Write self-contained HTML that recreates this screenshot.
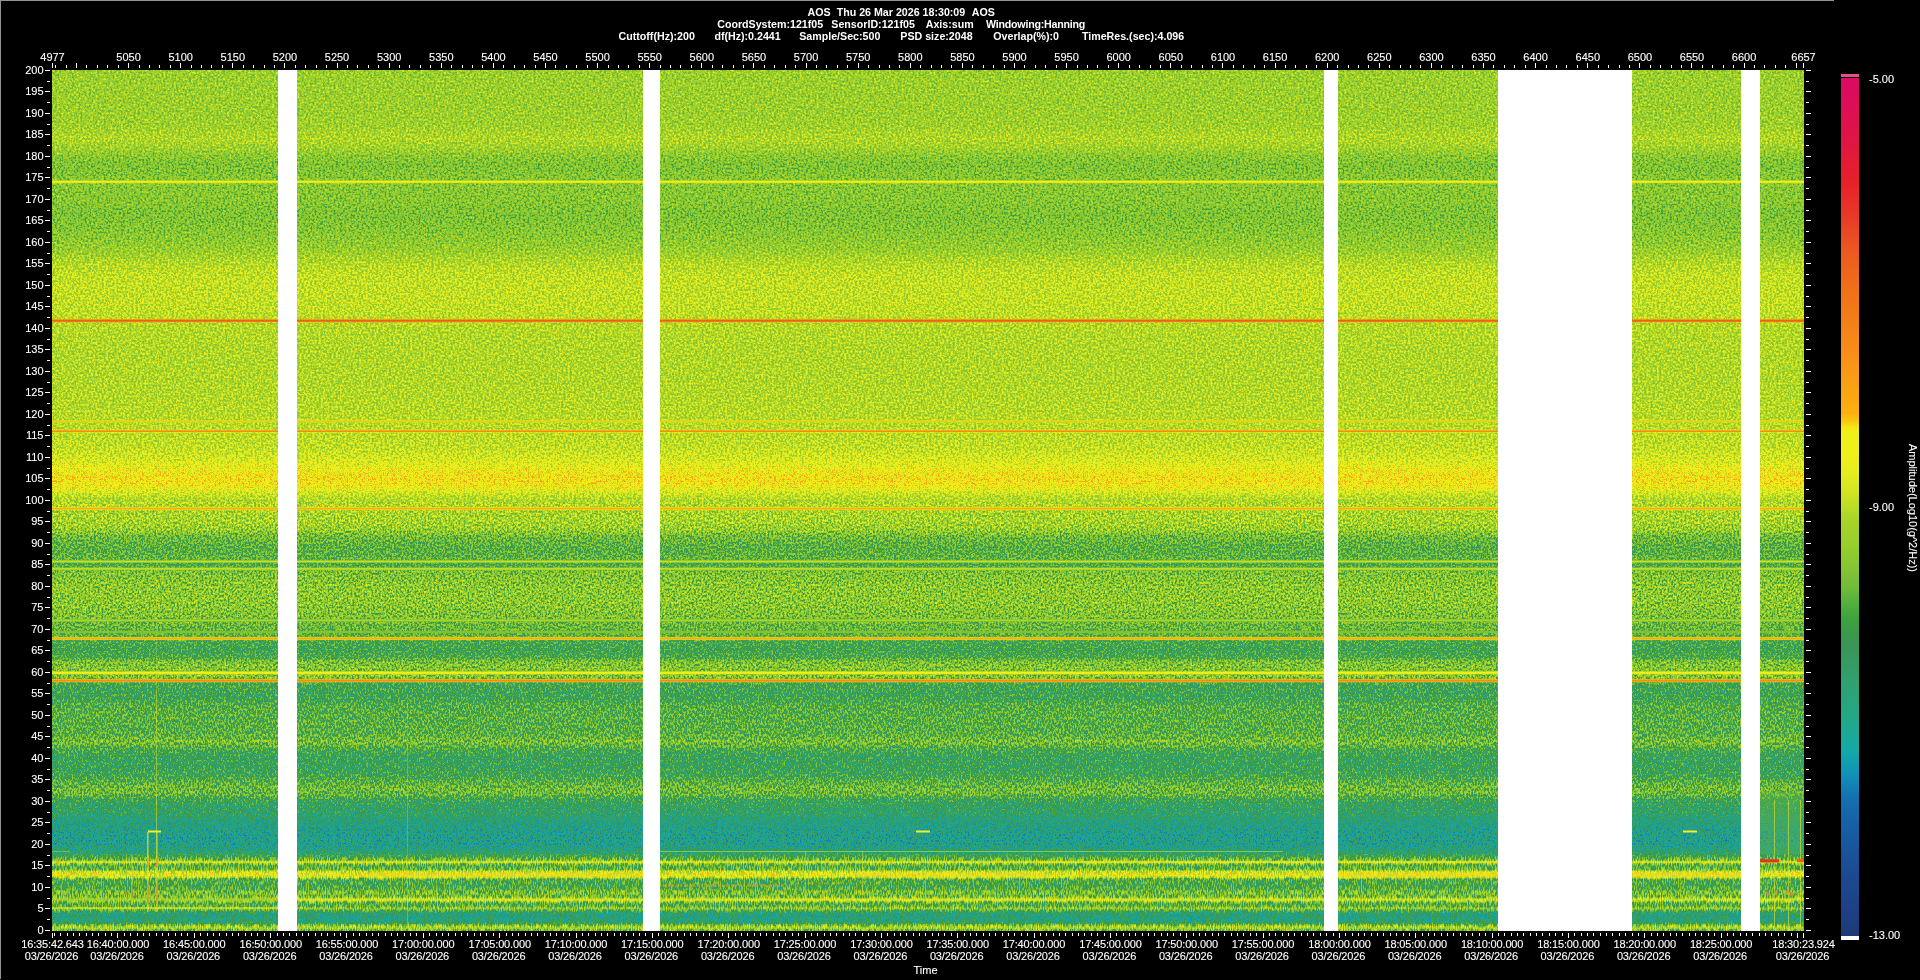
<!DOCTYPE html>
<html><head><meta charset="utf-8"><title>AOS spectrogram</title>
<style>
html,body{margin:0;padding:0;background:#000;}
body{width:1920px;height:980px;overflow:hidden;position:relative;font-family:"Liberation Sans",sans-serif;font-size:11px;color:#fff;}
.t{position:absolute;white-space:pre;line-height:12px;height:12px;-webkit-text-stroke:0.1px #fff;}
.c{transform:translateX(-50%);text-align:center;}
.r{text-align:right;}
.b{font-weight:bold;-webkit-text-stroke:0;}
.n{letter-spacing:-0.15px;}
svg{position:absolute;left:0;top:0;}
</style></head><body>
<svg width="1920" height="980" viewBox="0 0 1920 980" shape-rendering="crispEdges">
<defs>
<linearGradient id="vg" gradientUnits="userSpaceOnUse" x1="0" y1="70" x2="0" y2="931"><stop offset="0.0000" stop-color="rgb(117,117,117)"/><stop offset="0.0400" stop-color="rgb(117,117,117)"/><stop offset="0.0649" stop-color="rgb(118,118,118)"/><stop offset="0.0799" stop-color="rgb(123,123,123)"/><stop offset="0.0899" stop-color="rgb(119,119,119)"/><stop offset="0.0999" stop-color="rgb(112,112,112)"/><stop offset="0.1099" stop-color="rgb(108,108,108)"/><stop offset="0.1224" stop-color="rgb(110,110,110)"/><stop offset="0.1348" stop-color="rgb(111,111,111)"/><stop offset="0.1498" stop-color="rgb(111,111,111)"/><stop offset="0.1698" stop-color="rgb(108,108,108)"/><stop offset="0.1898" stop-color="rgb(111,111,111)"/><stop offset="0.2098" stop-color="rgb(116,116,116)"/><stop offset="0.2247" stop-color="rgb(124,124,124)"/><stop offset="0.2397" stop-color="rgb(128,128,128)"/><stop offset="0.2647" stop-color="rgb(128,128,128)"/><stop offset="0.2847" stop-color="rgb(127,127,127)"/><stop offset="0.2997" stop-color="rgb(124,124,124)"/><stop offset="0.3246" stop-color="rgb(123,123,123)"/><stop offset="0.3596" stop-color="rgb(123,123,123)"/><stop offset="0.3895" stop-color="rgb(124,124,124)"/><stop offset="0.4145" stop-color="rgb(125,125,125)"/><stop offset="0.4395" stop-color="rgb(128,128,128)"/><stop offset="0.4545" stop-color="rgb(135,135,135)"/><stop offset="0.4670" stop-color="rgb(143,143,143)"/><stop offset="0.4769" stop-color="rgb(147,147,147)"/><stop offset="0.4844" stop-color="rgb(143,143,143)"/><stop offset="0.4919" stop-color="rgb(131,131,131)"/><stop offset="0.4994" stop-color="rgb(123,123,123)"/><stop offset="0.5054" stop-color="rgb(123,123,123)"/><stop offset="0.5129" stop-color="rgb(120,120,120)"/><stop offset="0.5244" stop-color="rgb(120,120,120)"/><stop offset="0.5344" stop-color="rgb(115,115,115)"/><stop offset="0.5419" stop-color="rgb(104,104,104)"/><stop offset="0.5544" stop-color="rgb(97,97,97)"/><stop offset="0.5643" stop-color="rgb(98,98,98)"/><stop offset="0.5678" stop-color="rgb(100,100,100)"/><stop offset="0.5743" stop-color="rgb(91,91,91)"/><stop offset="0.5823" stop-color="rgb(107,107,107)"/><stop offset="0.5993" stop-color="rgb(112,112,112)"/><stop offset="0.6193" stop-color="rgb(112,112,112)"/><stop offset="0.6343" stop-color="rgb(108,108,108)"/><stop offset="0.6443" stop-color="rgb(102,102,102)"/><stop offset="0.6542" stop-color="rgb(100,100,100)"/><stop offset="0.6642" stop-color="rgb(91,91,91)"/><stop offset="0.6742" stop-color="rgb(88,88,88)"/><stop offset="0.6827" stop-color="rgb(92,92,92)"/><stop offset="0.6867" stop-color="rgb(107,107,107)"/><stop offset="0.6942" stop-color="rgb(110,110,110)"/><stop offset="0.6972" stop-color="rgb(107,107,107)"/><stop offset="0.7042" stop-color="rgb(110,110,110)"/><stop offset="0.7127" stop-color="rgb(89,89,89)"/><stop offset="0.7242" stop-color="rgb(86,86,86)"/><stop offset="0.7316" stop-color="rgb(88,88,88)"/><stop offset="0.7366" stop-color="rgb(94,94,94)"/><stop offset="0.7491" stop-color="rgb(96,96,96)"/><stop offset="0.7691" stop-color="rgb(96,96,96)"/><stop offset="0.7751" stop-color="rgb(100,100,100)"/><stop offset="0.7801" stop-color="rgb(106,106,106)"/><stop offset="0.7851" stop-color="rgb(99,99,99)"/><stop offset="0.7891" stop-color="rgb(91,91,91)"/><stop offset="0.7966" stop-color="rgb(84,84,84)"/><stop offset="0.8091" stop-color="rgb(84,84,84)"/><stop offset="0.8190" stop-color="rgb(87,87,87)"/><stop offset="0.8265" stop-color="rgb(96,96,96)"/><stop offset="0.8340" stop-color="rgb(103,103,103)"/><stop offset="0.8415" stop-color="rgb(101,101,101)"/><stop offset="0.8465" stop-color="rgb(88,88,88)"/><stop offset="0.8540" stop-color="rgb(80,80,80)"/><stop offset="0.8640" stop-color="rgb(78,78,78)"/><stop offset="0.8715" stop-color="rgb(70,70,70)"/><stop offset="0.8790" stop-color="rgb(67,67,67)"/><stop offset="0.8890" stop-color="rgb(64,64,64)"/><stop offset="0.8990" stop-color="rgb(64,64,64)"/><stop offset="0.9064" stop-color="rgb(70,70,70)"/><stop offset="0.9109" stop-color="rgb(80,80,80)"/><stop offset="0.9139" stop-color="rgb(92,92,92)"/><stop offset="0.9164" stop-color="rgb(99,99,99)"/><stop offset="0.9184" stop-color="rgb(115,115,115)"/><stop offset="0.9199" stop-color="rgb(128,128,128)"/><stop offset="0.9214" stop-color="rgb(115,115,115)"/><stop offset="0.9234" stop-color="rgb(99,99,99)"/><stop offset="0.9259" stop-color="rgb(96,96,96)"/><stop offset="0.9284" stop-color="rgb(102,102,102)"/><stop offset="0.9304" stop-color="rgb(124,124,124)"/><stop offset="0.9324" stop-color="rgb(134,134,134)"/><stop offset="0.9359" stop-color="rgb(134,134,134)"/><stop offset="0.9379" stop-color="rgb(124,124,124)"/><stop offset="0.9394" stop-color="rgb(102,102,102)"/><stop offset="0.9419" stop-color="rgb(92,92,92)"/><stop offset="0.9489" stop-color="rgb(92,92,92)"/><stop offset="0.9509" stop-color="rgb(96,96,96)"/><stop offset="0.9539" stop-color="rgb(105,105,105)"/><stop offset="0.9569" stop-color="rgb(107,107,107)"/><stop offset="0.9594" stop-color="rgb(102,102,102)"/><stop offset="0.9614" stop-color="rgb(115,115,115)"/><stop offset="0.9634" stop-color="rgb(128,128,128)"/><stop offset="0.9654" stop-color="rgb(118,118,118)"/><stop offset="0.9674" stop-color="rgb(99,99,99)"/><stop offset="0.9699" stop-color="rgb(94,94,94)"/><stop offset="0.9714" stop-color="rgb(100,100,100)"/><stop offset="0.9729" stop-color="rgb(110,110,110)"/><stop offset="0.9744" stop-color="rgb(110,110,110)"/><stop offset="0.9759" stop-color="rgb(97,97,97)"/><stop offset="0.9779" stop-color="rgb(80,80,80)"/><stop offset="0.9814" stop-color="rgb(70,70,70)"/><stop offset="0.9889" stop-color="rgb(73,73,73)"/><stop offset="0.9908" stop-color="rgb(83,83,83)"/><stop offset="0.9928" stop-color="rgb(104,104,104)"/><stop offset="0.9948" stop-color="rgb(118,118,118)"/><stop offset="0.9968" stop-color="rgb(118,118,118)"/><stop offset="0.9988" stop-color="rgb(105,105,105)"/></linearGradient>
<linearGradient id="cbg" x1="0" y1="0" x2="0" y2="1"><stop offset="0.0000" stop-color="#DC0A64"/><stop offset="0.0256" stop-color="#DE0C5A"/><stop offset="0.0688" stop-color="#E01446"/><stop offset="0.1212" stop-color="#E82028"/><stop offset="0.1597" stop-color="#E83828"/><stop offset="0.2005" stop-color="#EC5820"/><stop offset="0.2471" stop-color="#F07018"/><stop offset="0.3252" stop-color="#F89018"/><stop offset="0.3904" stop-color="#FBB010"/><stop offset="0.3998" stop-color="#F8C810"/><stop offset="0.4079" stop-color="#F4E818"/><stop offset="0.4138" stop-color="#F0F018"/><stop offset="0.4394" stop-color="#EEF01A"/><stop offset="0.4627" stop-color="#E4EC20"/><stop offset="0.4802" stop-color="#D4E622"/><stop offset="0.5000" stop-color="#BCDC26"/><stop offset="0.5152" stop-color="#A8D428"/><stop offset="0.5443" stop-color="#98CE2C"/><stop offset="0.5734" stop-color="#84C434"/><stop offset="0.5967" stop-color="#6CBA38"/><stop offset="0.6142" stop-color="#50AE3C"/><stop offset="0.6317" stop-color="#3CA23E"/><stop offset="0.6457" stop-color="#3A9A4A"/><stop offset="0.6620" stop-color="#3A9458"/><stop offset="0.7016" stop-color="#30A070"/><stop offset="0.7483" stop-color="#22A888"/><stop offset="0.7855" stop-color="#14A8A8"/><stop offset="0.8124" stop-color="#1090B8"/><stop offset="0.8380" stop-color="#1470B0"/><stop offset="0.8881" stop-color="#1858A0"/><stop offset="0.9347" stop-color="#1C4890"/><stop offset="1.0000" stop-color="#1E3A78"/></linearGradient>
<filter id="fn" x="0" y="0" width="100%" height="100%" filterUnits="objectBoundingBox" color-interpolation-filters="sRGB"><feTurbulence type="fractalNoise" baseFrequency="0.47" numOctaves="2" seed="3" result="n"/><feComponentTransfer in="n" result="nq"><feFuncR type="table" tableValues="0.4413 0.4413 0.4413 0.4413 0.4413 0.4413 0.4413 0.4413 0.4413 0.4413 0.4413 0.4413 0.4413 0.4413 0.4413 0.4413 0.4413 0.4413 0.4413 0.4413 0.4413 0.4413 0.4450 0.4520 0.4587 0.4652 0.4714 0.4774 0.4832 0.4888 0.4943 0.4995 0.5046 0.5095 0.5143 0.5189 0.5233 0.5277 0.5319 0.5359 0.5399 0.5437 0.5475 0.5511 0.5546 0.5581 0.5614 0.5647 0.5679 0.5710 0.5740 0.5769 0.5798 0.5826 0.5854 0.5881 0.5907 0.5933 0.5938 0.5938 0.5938 0.5938 0.5938 0.5938 0.5938"/></feComponentTransfer><feColorMatrix in="nq" type="matrix" values="1 0 0 0 0  1 0 0 0 0  1 0 0 0 0  0 0 0 0 1" result="n1"/><feComposite in="SourceGraphic" in2="n1" operator="arithmetic" k1="0" k2="1" k3="1" k4="-0.5"/><feComponentTransfer><feFuncR type="table" tableValues="0.118 0.117 0.116 0.115 0.114 0.113 0.112 0.111 0.110 0.108 0.105 0.103 0.100 0.098 0.095 0.092 0.090 0.088 0.085 0.083 0.080 0.077 0.072 0.068 0.063 0.067 0.072 0.076 0.085 0.096 0.108 0.119 0.131 0.140 0.150 0.159 0.168 0.177 0.186 0.194 0.202 0.210 0.218 0.225 0.227 0.227 0.230 0.235 0.265 0.300 0.344 0.393 0.436 0.467 0.499 0.526 0.547 0.568 0.589 0.607 0.624 0.641 0.658 0.697 0.737 0.774 0.811 0.844 0.872 0.897 0.910 0.923 0.934 0.936 0.939 0.941 0.960 0.974 0.984 0.983 0.982 0.980 0.979 0.977 0.976 0.974 0.973 0.971 0.967 0.964 0.961 0.958 0.955 0.952 0.949 0.945 0.942 0.940 0.937 0.934 0.932 0.929 0.926 0.924 0.921 0.917 0.914 0.911 0.910 0.910 0.910 0.910 0.910 0.907 0.903 0.898 0.893 0.889 0.884 0.879 0.877 0.876 0.874 0.873 0.872 0.870 0.868 0.865 0.863"/><feFuncG type="table" tableValues="0.227 0.234 0.241 0.247 0.254 0.260 0.267 0.273 0.280 0.289 0.300 0.310 0.321 0.331 0.342 0.355 0.370 0.384 0.399 0.414 0.428 0.449 0.488 0.526 0.564 0.592 0.619 0.646 0.659 0.659 0.659 0.659 0.659 0.655 0.649 0.644 0.639 0.634 0.628 0.620 0.611 0.601 0.592 0.583 0.589 0.600 0.615 0.633 0.653 0.674 0.695 0.716 0.734 0.748 0.761 0.773 0.783 0.794 0.804 0.812 0.818 0.825 0.831 0.847 0.863 0.878 0.894 0.907 0.917 0.927 0.932 0.937 0.941 0.941 0.941 0.941 0.884 0.771 0.692 0.676 0.661 0.645 0.630 0.615 0.600 0.585 0.570 0.557 0.544 0.532 0.519 0.507 0.494 0.482 0.469 0.456 0.444 0.429 0.414 0.398 0.382 0.366 0.350 0.329 0.305 0.281 0.257 0.233 0.211 0.192 0.173 0.154 0.135 0.122 0.115 0.108 0.101 0.094 0.087 0.080 0.074 0.068 0.063 0.057 0.051 0.046 0.044 0.042 0.039"/><feFuncB type="table" tableValues="0.471 0.482 0.493 0.504 0.516 0.527 0.538 0.549 0.561 0.571 0.582 0.593 0.603 0.614 0.624 0.634 0.644 0.654 0.663 0.673 0.683 0.693 0.702 0.712 0.721 0.704 0.685 0.667 0.644 0.618 0.592 0.566 0.539 0.521 0.505 0.490 0.474 0.458 0.442 0.424 0.406 0.387 0.369 0.350 0.326 0.299 0.273 0.247 0.240 0.237 0.231 0.224 0.218 0.212 0.207 0.201 0.192 0.184 0.175 0.170 0.166 0.161 0.157 0.153 0.149 0.143 0.137 0.132 0.128 0.124 0.116 0.108 0.101 0.099 0.097 0.094 0.088 0.063 0.063 0.066 0.070 0.074 0.078 0.081 0.085 0.089 0.093 0.094 0.094 0.094 0.094 0.094 0.094 0.094 0.094 0.094 0.094 0.097 0.103 0.108 0.113 0.118 0.124 0.129 0.135 0.141 0.147 0.153 0.157 0.157 0.157 0.157 0.157 0.166 0.183 0.201 0.218 0.236 0.254 0.271 0.286 0.300 0.314 0.329 0.343 0.356 0.368 0.380 0.392"/><feFuncA type="linear" slope="0" intercept="1"/></feComponentTransfer><feGaussianBlur stdDeviation="0.42"/></filter>
<filter id="fn2" x="0" y="0" width="100%" height="100%" filterUnits="objectBoundingBox" color-interpolation-filters="sRGB"><feTurbulence type="fractalNoise" baseFrequency="0.53 0.45" numOctaves="2" seed="5" result="n"/><feComponentTransfer in="n" result="nq"><feFuncR type="table" tableValues="0.4250 0.4250 0.4250 0.4250 0.4250 0.4250 0.4250 0.4250 0.4250 0.4250 0.4250 0.4250 0.4250 0.4250 0.4250 0.4250 0.4250 0.4250 0.4250 0.4250 0.4250 0.4250 0.4250 0.4333 0.4426 0.4516 0.4603 0.4686 0.4767 0.4845 0.4920 0.4993 0.5064 0.5132 0.5198 0.5262 0.5324 0.5384 0.5442 0.5499 0.5554 0.5607 0.5659 0.5710 0.5759 0.5806 0.5853 0.5898 0.5938 0.5938 0.5938 0.5938 0.5938 0.5938 0.5938 0.5938 0.5938 0.5938 0.5938 0.5938 0.5938 0.5938 0.5938 0.5938 0.5938"/></feComponentTransfer><feColorMatrix in="nq" type="matrix" values="1 0 0 0 0  1 0 0 0 0  1 0 0 0 0  0 0 0 0 1" result="n1"/><feComposite in="SourceGraphic" in2="n1" operator="arithmetic" k1="0" k2="1" k3="1" k4="-0.5"/><feComponentTransfer><feFuncR type="table" tableValues="0.118 0.117 0.116 0.115 0.114 0.113 0.112 0.111 0.110 0.108 0.105 0.103 0.100 0.098 0.095 0.092 0.090 0.088 0.085 0.083 0.080 0.077 0.072 0.068 0.063 0.067 0.072 0.076 0.085 0.096 0.108 0.119 0.131 0.140 0.150 0.159 0.168 0.177 0.186 0.194 0.202 0.210 0.218 0.225 0.227 0.227 0.230 0.235 0.265 0.300 0.344 0.393 0.436 0.467 0.499 0.526 0.547 0.568 0.589 0.607 0.624 0.641 0.658 0.697 0.737 0.774 0.811 0.844 0.872 0.897 0.910 0.923 0.934 0.936 0.939 0.941 0.960 0.974 0.984 0.983 0.982 0.980 0.979 0.977 0.976 0.974 0.973 0.971 0.967 0.964 0.961 0.958 0.955 0.952 0.949 0.945 0.942 0.940 0.937 0.934 0.932 0.929 0.926 0.924 0.921 0.917 0.914 0.911 0.910 0.910 0.910 0.910 0.910 0.907 0.903 0.898 0.893 0.889 0.884 0.879 0.877 0.876 0.874 0.873 0.872 0.870 0.868 0.865 0.863"/><feFuncG type="table" tableValues="0.227 0.234 0.241 0.247 0.254 0.260 0.267 0.273 0.280 0.289 0.300 0.310 0.321 0.331 0.342 0.355 0.370 0.384 0.399 0.414 0.428 0.449 0.488 0.526 0.564 0.592 0.619 0.646 0.659 0.659 0.659 0.659 0.659 0.655 0.649 0.644 0.639 0.634 0.628 0.620 0.611 0.601 0.592 0.583 0.589 0.600 0.615 0.633 0.653 0.674 0.695 0.716 0.734 0.748 0.761 0.773 0.783 0.794 0.804 0.812 0.818 0.825 0.831 0.847 0.863 0.878 0.894 0.907 0.917 0.927 0.932 0.937 0.941 0.941 0.941 0.941 0.884 0.771 0.692 0.676 0.661 0.645 0.630 0.615 0.600 0.585 0.570 0.557 0.544 0.532 0.519 0.507 0.494 0.482 0.469 0.456 0.444 0.429 0.414 0.398 0.382 0.366 0.350 0.329 0.305 0.281 0.257 0.233 0.211 0.192 0.173 0.154 0.135 0.122 0.115 0.108 0.101 0.094 0.087 0.080 0.074 0.068 0.063 0.057 0.051 0.046 0.044 0.042 0.039"/><feFuncB type="table" tableValues="0.471 0.482 0.493 0.504 0.516 0.527 0.538 0.549 0.561 0.571 0.582 0.593 0.603 0.614 0.624 0.634 0.644 0.654 0.663 0.673 0.683 0.693 0.702 0.712 0.721 0.704 0.685 0.667 0.644 0.618 0.592 0.566 0.539 0.521 0.505 0.490 0.474 0.458 0.442 0.424 0.406 0.387 0.369 0.350 0.326 0.299 0.273 0.247 0.240 0.237 0.231 0.224 0.218 0.212 0.207 0.201 0.192 0.184 0.175 0.170 0.166 0.161 0.157 0.153 0.149 0.143 0.137 0.132 0.128 0.124 0.116 0.108 0.101 0.099 0.097 0.094 0.088 0.063 0.063 0.066 0.070 0.074 0.078 0.081 0.085 0.089 0.093 0.094 0.094 0.094 0.094 0.094 0.094 0.094 0.094 0.094 0.094 0.097 0.103 0.108 0.113 0.118 0.124 0.129 0.135 0.141 0.147 0.153 0.157 0.157 0.157 0.157 0.157 0.166 0.183 0.201 0.218 0.236 0.254 0.271 0.286 0.300 0.314 0.329 0.343 0.356 0.368 0.380 0.392"/><feFuncA type="linear" slope="0" intercept="1"/></feComponentTransfer><feGaussianBlur stdDeviation="0.36"/></filter>
<filter id="fm" x="0" y="0" width="100%" height="100%" filterUnits="objectBoundingBox" color-interpolation-filters="sRGB"><feTurbulence type="fractalNoise" baseFrequency="0.57 0.35" numOctaves="2" seed="7" result="n"/><feComponentTransfer in="n" result="nq"><feFuncR type="table" tableValues="0.4250 0.4250 0.4250 0.4250 0.4250 0.4250 0.4250 0.4250 0.4250 0.4250 0.4250 0.4250 0.4250 0.4250 0.4250 0.4250 0.4250 0.4250 0.4250 0.4250 0.4250 0.4250 0.4250 0.4254 0.4356 0.4454 0.4549 0.4642 0.4731 0.4818 0.4903 0.4984 0.5064 0.5141 0.5216 0.5289 0.5360 0.5429 0.5496 0.5561 0.5624 0.5686 0.5747 0.5806 0.5863 0.5919 0.5938 0.5938 0.5938 0.5938 0.5938 0.5938 0.5938 0.5938 0.5938 0.5938 0.5938 0.5938 0.5938 0.5938 0.5938 0.5938 0.5938 0.5938 0.5938"/></feComponentTransfer><feColorMatrix in="nq" type="matrix" values="1 0 0 0 0  1 0 0 0 0  1 0 0 0 0  0 0 0 0 1" result="n1"/><feComposite in="SourceGraphic" in2="n1" operator="arithmetic" k1="0" k2="1" k3="1" k4="-0.5"/><feComponentTransfer><feFuncR type="table" tableValues="0.118 0.117 0.116 0.115 0.114 0.113 0.112 0.111 0.110 0.108 0.105 0.103 0.100 0.098 0.095 0.092 0.090 0.088 0.085 0.083 0.080 0.077 0.072 0.068 0.063 0.067 0.072 0.076 0.085 0.096 0.108 0.119 0.131 0.140 0.150 0.159 0.168 0.177 0.186 0.194 0.202 0.210 0.218 0.225 0.227 0.227 0.230 0.235 0.265 0.300 0.344 0.393 0.436 0.467 0.499 0.526 0.547 0.568 0.589 0.607 0.624 0.641 0.658 0.697 0.737 0.774 0.811 0.844 0.872 0.897 0.910 0.923 0.934 0.936 0.939 0.941 0.960 0.974 0.984 0.983 0.982 0.980 0.979 0.977 0.976 0.974 0.973 0.971 0.967 0.964 0.961 0.958 0.955 0.952 0.949 0.945 0.942 0.940 0.937 0.934 0.932 0.929 0.926 0.924 0.921 0.917 0.914 0.911 0.910 0.910 0.910 0.910 0.910 0.907 0.903 0.898 0.893 0.889 0.884 0.879 0.877 0.876 0.874 0.873 0.872 0.870 0.868 0.865 0.863"/><feFuncG type="table" tableValues="0.227 0.234 0.241 0.247 0.254 0.260 0.267 0.273 0.280 0.289 0.300 0.310 0.321 0.331 0.342 0.355 0.370 0.384 0.399 0.414 0.428 0.449 0.488 0.526 0.564 0.592 0.619 0.646 0.659 0.659 0.659 0.659 0.659 0.655 0.649 0.644 0.639 0.634 0.628 0.620 0.611 0.601 0.592 0.583 0.589 0.600 0.615 0.633 0.653 0.674 0.695 0.716 0.734 0.748 0.761 0.773 0.783 0.794 0.804 0.812 0.818 0.825 0.831 0.847 0.863 0.878 0.894 0.907 0.917 0.927 0.932 0.937 0.941 0.941 0.941 0.941 0.884 0.771 0.692 0.676 0.661 0.645 0.630 0.615 0.600 0.585 0.570 0.557 0.544 0.532 0.519 0.507 0.494 0.482 0.469 0.456 0.444 0.429 0.414 0.398 0.382 0.366 0.350 0.329 0.305 0.281 0.257 0.233 0.211 0.192 0.173 0.154 0.135 0.122 0.115 0.108 0.101 0.094 0.087 0.080 0.074 0.068 0.063 0.057 0.051 0.046 0.044 0.042 0.039"/><feFuncB type="table" tableValues="0.471 0.482 0.493 0.504 0.516 0.527 0.538 0.549 0.561 0.571 0.582 0.593 0.603 0.614 0.624 0.634 0.644 0.654 0.663 0.673 0.683 0.693 0.702 0.712 0.721 0.704 0.685 0.667 0.644 0.618 0.592 0.566 0.539 0.521 0.505 0.490 0.474 0.458 0.442 0.424 0.406 0.387 0.369 0.350 0.326 0.299 0.273 0.247 0.240 0.237 0.231 0.224 0.218 0.212 0.207 0.201 0.192 0.184 0.175 0.170 0.166 0.161 0.157 0.153 0.149 0.143 0.137 0.132 0.128 0.124 0.116 0.108 0.101 0.099 0.097 0.094 0.088 0.063 0.063 0.066 0.070 0.074 0.078 0.081 0.085 0.089 0.093 0.094 0.094 0.094 0.094 0.094 0.094 0.094 0.094 0.094 0.094 0.097 0.103 0.108 0.113 0.118 0.124 0.129 0.135 0.141 0.147 0.153 0.157 0.157 0.157 0.157 0.157 0.166 0.183 0.201 0.218 0.236 0.254 0.271 0.286 0.300 0.314 0.329 0.343 0.356 0.368 0.380 0.392"/><feFuncA type="linear" slope="0" intercept="1"/></feComponentTransfer><feGaussianBlur stdDeviation="0.33"/></filter>
<filter id="fl" x="0" y="0" width="100%" height="100%" filterUnits="objectBoundingBox" color-interpolation-filters="sRGB"><feTurbulence type="fractalNoise" baseFrequency="0.83 0.21" numOctaves="2" seed="11" result="n"/><feComponentTransfer in="n" result="nq"><feFuncR type="table" tableValues="0.4250 0.4250 0.4250 0.4250 0.4250 0.4250 0.4250 0.4250 0.4250 0.4250 0.4250 0.4250 0.4250 0.4250 0.4250 0.4250 0.4250 0.4250 0.4250 0.4250 0.4250 0.4250 0.4250 0.4280 0.4380 0.4477 0.4571 0.4661 0.4748 0.4833 0.4914 0.4993 0.5069 0.5143 0.5214 0.5283 0.5350 0.5415 0.5478 0.5539 0.5598 0.5656 0.5712 0.5766 0.5819 0.5871 0.5921 0.5938 0.5938 0.5938 0.5938 0.5938 0.5938 0.5938 0.5938 0.5938 0.5938 0.5938 0.5938 0.5938 0.5938 0.5938 0.5938 0.5938 0.5938"/></feComponentTransfer><feColorMatrix in="nq" type="matrix" values="1 0 0 0 0  1 0 0 0 0  1 0 0 0 0  0 0 0 0 1" result="n1"/><feComposite in="SourceGraphic" in2="n1" operator="arithmetic" k1="0" k2="1" k3="1" k4="-0.5"/><feComponentTransfer><feFuncR type="table" tableValues="0.118 0.117 0.116 0.115 0.114 0.113 0.112 0.111 0.110 0.108 0.105 0.103 0.100 0.098 0.095 0.092 0.090 0.088 0.085 0.083 0.080 0.077 0.072 0.068 0.063 0.067 0.072 0.076 0.085 0.096 0.108 0.119 0.131 0.140 0.150 0.159 0.168 0.177 0.186 0.194 0.202 0.210 0.218 0.225 0.227 0.227 0.230 0.235 0.265 0.300 0.344 0.393 0.436 0.467 0.499 0.526 0.547 0.568 0.589 0.607 0.624 0.641 0.658 0.697 0.737 0.774 0.811 0.844 0.872 0.897 0.910 0.923 0.934 0.936 0.939 0.941 0.960 0.974 0.984 0.983 0.982 0.980 0.979 0.977 0.976 0.974 0.973 0.971 0.967 0.964 0.961 0.958 0.955 0.952 0.949 0.945 0.942 0.940 0.937 0.934 0.932 0.929 0.926 0.924 0.921 0.917 0.914 0.911 0.910 0.910 0.910 0.910 0.910 0.907 0.903 0.898 0.893 0.889 0.884 0.879 0.877 0.876 0.874 0.873 0.872 0.870 0.868 0.865 0.863"/><feFuncG type="table" tableValues="0.227 0.234 0.241 0.247 0.254 0.260 0.267 0.273 0.280 0.289 0.300 0.310 0.321 0.331 0.342 0.355 0.370 0.384 0.399 0.414 0.428 0.449 0.488 0.526 0.564 0.592 0.619 0.646 0.659 0.659 0.659 0.659 0.659 0.655 0.649 0.644 0.639 0.634 0.628 0.620 0.611 0.601 0.592 0.583 0.589 0.600 0.615 0.633 0.653 0.674 0.695 0.716 0.734 0.748 0.761 0.773 0.783 0.794 0.804 0.812 0.818 0.825 0.831 0.847 0.863 0.878 0.894 0.907 0.917 0.927 0.932 0.937 0.941 0.941 0.941 0.941 0.884 0.771 0.692 0.676 0.661 0.645 0.630 0.615 0.600 0.585 0.570 0.557 0.544 0.532 0.519 0.507 0.494 0.482 0.469 0.456 0.444 0.429 0.414 0.398 0.382 0.366 0.350 0.329 0.305 0.281 0.257 0.233 0.211 0.192 0.173 0.154 0.135 0.122 0.115 0.108 0.101 0.094 0.087 0.080 0.074 0.068 0.063 0.057 0.051 0.046 0.044 0.042 0.039"/><feFuncB type="table" tableValues="0.471 0.482 0.493 0.504 0.516 0.527 0.538 0.549 0.561 0.571 0.582 0.593 0.603 0.614 0.624 0.634 0.644 0.654 0.663 0.673 0.683 0.693 0.702 0.712 0.721 0.704 0.685 0.667 0.644 0.618 0.592 0.566 0.539 0.521 0.505 0.490 0.474 0.458 0.442 0.424 0.406 0.387 0.369 0.350 0.326 0.299 0.273 0.247 0.240 0.237 0.231 0.224 0.218 0.212 0.207 0.201 0.192 0.184 0.175 0.170 0.166 0.161 0.157 0.153 0.149 0.143 0.137 0.132 0.128 0.124 0.116 0.108 0.101 0.099 0.097 0.094 0.088 0.063 0.063 0.066 0.070 0.074 0.078 0.081 0.085 0.089 0.093 0.094 0.094 0.094 0.094 0.094 0.094 0.094 0.094 0.094 0.094 0.097 0.103 0.108 0.113 0.118 0.124 0.129 0.135 0.141 0.147 0.153 0.157 0.157 0.157 0.157 0.157 0.166 0.183 0.201 0.218 0.236 0.254 0.271 0.286 0.300 0.314 0.329 0.343 0.356 0.368 0.380 0.392"/><feFuncA type="linear" slope="0" intercept="1"/></feComponentTransfer><feGaussianBlur stdDeviation="0.30"/></filter>
</defs>
<rect x="52" y="851" width="1752" height="80" fill="url(#vg)" filter="url(#fl)"/>
<rect x="52" y="671" width="1752" height="184" fill="url(#vg)" filter="url(#fm)"/>
<rect x="52" y="498" width="1752" height="177" fill="url(#vg)" filter="url(#fn2)"/>
<rect x="52" y="70" width="1752" height="432" fill="url(#vg)" filter="url(#fn)"/>
<rect x="52" y="180.30" width="1752" height="3.00" fill="#D3E522" opacity="0.75" shape-rendering="auto"/><rect x="52" y="181.00" width="1752" height="1.60" fill="#F1EE18" shape-rendering="auto"/>
<rect x="52" y="318.99" width="1752" height="3.40" fill="#FBAF10" opacity="0.75" shape-rendering="auto"/><rect x="52" y="319.69" width="1752" height="2.00" fill="#EE611D" shape-rendering="auto"/>
<rect x="52" y="420.11" width="1752" height="2.40" fill="#D3E522" opacity="0.75" shape-rendering="auto"/><rect x="52" y="420.81" width="1752" height="1.00" fill="#F8C910" shape-rendering="auto"/>
<rect x="52" y="429.70" width="1752" height="3.00" fill="#F1EE18" opacity="0.75" shape-rendering="auto"/><rect x="52" y="430.40" width="1752" height="1.60" fill="#F78B18" shape-rendering="auto"/>
<rect x="52" y="507.00" width="1752" height="3.20" fill="#E9EE1D" opacity="0.75" shape-rendering="auto"/><rect x="52" y="507.70" width="1752" height="1.80" fill="#FBB010" shape-rendering="auto"/>
<rect x="52" y="560.09" width="1752" height="2.80" fill="#9CCF2B" opacity="0.75" shape-rendering="auto"/><rect x="52" y="560.79" width="1752" height="1.40" fill="#C4DF25" shape-rendering="auto"/>
<rect x="52" y="567.40" width="1752" height="2.80" fill="#9CCF2B" opacity="0.75" shape-rendering="auto"/><rect x="52" y="568.10" width="1752" height="1.40" fill="#C4DF25" shape-rendering="auto"/>
<rect x="52" y="619.10" width="1752" height="2.60" fill="#90CA2F" opacity="0.75" shape-rendering="auto"/><rect x="52" y="619.80" width="1752" height="1.20" fill="#ACD528" shape-rendering="auto"/>
<rect x="52" y="630.81" width="1752" height="2.40" fill="#76BE36" opacity="0.75" shape-rendering="auto"/><rect x="52" y="631.51" width="1752" height="1.00" fill="#90CA2F" shape-rendering="auto"/>
<rect x="52" y="636.86" width="1752" height="3.20" fill="#EEF01A" opacity="0.75" shape-rendering="auto"/><rect x="52" y="637.56" width="1752" height="1.80" fill="#FBAD11" shape-rendering="auto"/>
<rect x="52" y="671.16" width="1752" height="3.40" fill="#CBE223" opacity="0.75" shape-rendering="auto"/><rect x="52" y="671.86" width="1752" height="2.00" fill="#F1EE18" shape-rendering="auto"/>
<rect x="52" y="678.90" width="1752" height="3.40" fill="#F5E116" opacity="0.75" shape-rendering="auto"/><rect x="52" y="679.60" width="1752" height="2.00" fill="#F78D18" shape-rendering="auto"/>
<rect x="52" y="861.06" width="1752" height="2.00" fill="#E4E62A" opacity="0.50" shape-rendering="auto"/><rect x="52" y="907.49" width="1752" height="1.60" fill="#D0E02C" opacity="0.25" shape-rendering="auto"/><rect x="52" y="898.47" width="1752" height="2.00" fill="#E0E62C" opacity="0.35" shape-rendering="auto"/><rect x="52" y="872.75" width="1752" height="4.00" fill="#F0E424" opacity="0.25" shape-rendering="auto"/><rect x="52" y="926.22" width="1752" height="2.40" fill="#C8E02A" opacity="0.25" shape-rendering="auto"/><rect x="370" y="872" width="273" height="6.5" fill="#F4E020" opacity="0.32" shape-rendering="auto"/><rect x="370" y="873.5" width="273" height="3" fill="#F8D018" opacity="0.11" shape-rendering="auto"/><rect x="860" y="872" width="185" height="6.5" fill="#F4E020" opacity="0.30" shape-rendering="auto"/><rect x="860" y="873.5" width="185" height="3" fill="#F8D018" opacity="0.10" shape-rendering="auto"/><rect x="1338" y="872" width="160" height="6.5" fill="#F4E020" opacity="0.40" shape-rendering="auto"/><rect x="1338" y="873.5" width="160" height="3" fill="#F8D018" opacity="0.14" shape-rendering="auto"/><rect x="1632" y="872" width="109" height="6.5" fill="#F4E020" opacity="0.40" shape-rendering="auto"/><rect x="1632" y="873.5" width="109" height="3" fill="#F8D018" opacity="0.14" shape-rendering="auto"/><rect x="297" y="898.6" width="1027" height="2.4" fill="#E8E828" opacity="0.35" shape-rendering="auto"/><rect x="1040" y="861" width="458" height="2.2" fill="#ECEA26" opacity="0.4" shape-rendering="auto"/><rect x="660" y="850.5" width="623" height="1" fill="#9CCC38" opacity="0.85"/><rect x="52" y="850.5" width="18" height="1" fill="#B8D434" opacity="0.5"/><rect x="148" y="830" width="13" height="3" fill="#B8D834" opacity="0.7"/><rect x="148" y="830.6" width="13" height="1.6" fill="#F0F040"/><rect x="916" y="830" width="14" height="3" fill="#B8D834" opacity="0.7"/><rect x="916" y="830.6" width="14" height="1.6" fill="#F0F040"/><rect x="1683" y="830" width="14" height="3" fill="#B8D834" opacity="0.7"/><rect x="1683" y="830.6" width="14" height="1.6" fill="#F0F040"/><rect x="147.0" y="832" width="1.6" height="80" fill="#E0E430" opacity="0.70" shape-rendering="auto"/><rect x="156.0" y="690" width="1.0" height="140" fill="#E0E430" opacity="0.50" shape-rendering="auto"/><rect x="156.0" y="830" width="1.6" height="82" fill="#E0E430" opacity="0.70" shape-rendering="auto"/><rect x="156.0" y="560" width="1.0" height="130" fill="#E0E430" opacity="0.25" shape-rendering="auto"/><rect x="131.0" y="855" width="1.4" height="50" fill="#E0E430" opacity="0.45" shape-rendering="auto"/><rect x="407.0" y="700" width="1.0" height="160" fill="#E0E430" opacity="0.30" shape-rendering="auto"/><rect x="407.0" y="860" width="1.0" height="65" fill="#E0E430" opacity="0.35" shape-rendering="auto"/><rect x="146.9" y="858" width="1.8" height="10" rx="0.9" fill="#F08820" opacity="0.7" shape-rendering="auto"/><rect x="155.9" y="858" width="1.8" height="10" rx="0.9" fill="#F08820" opacity="0.7" shape-rendering="auto"/><rect x="146.9" y="884" width="1.8" height="20" rx="0.9" fill="#F08820" opacity="0.7" shape-rendering="auto"/><rect x="155.9" y="884" width="1.8" height="20" rx="0.9" fill="#F08820" opacity="0.7" shape-rendering="auto"/><rect x="130.9" y="888" width="1.8" height="10" rx="0.9" fill="#F08820" opacity="0.7" shape-rendering="auto"/><rect x="124.5" y="891" width="2" height="4" rx="1" fill="#F09020" opacity="0.6" shape-rendering="auto"/><rect x="57.5" y="860" width="2" height="4" rx="1" fill="#F09020" opacity="0.6" shape-rendering="auto"/><rect x="67.5" y="874" width="2" height="4" rx="1" fill="#F09020" opacity="0.6" shape-rendering="auto"/><rect x="62.5" y="891" width="2" height="4" rx="1" fill="#F09020" opacity="0.6" shape-rendering="auto"/><rect x="52" y="907" width="226" height="2" fill="#E4E82A" opacity="0.55" shape-rendering="auto"/><rect x="52" y="897.5" width="226" height="4" fill="#58B040" opacity="0.3" shape-rendering="auto"/><path d="M663 885.5H790" stroke="#F4A81C" stroke-width="2.6" stroke-dasharray="4 1 6 2 3 1 2 2" opacity="0.55" shape-rendering="auto"/><path d="M790 883.5H840" stroke="#F4B820" stroke-width="2" stroke-dasharray="2 4 3 5" opacity="0.45" shape-rendering="auto"/><rect x="805" y="851" width="1" height="50" fill="#D8E030" opacity="0.5"/><rect x="862" y="851" width="1" height="50" fill="#D8E030" opacity="0.5"/><rect x="1760" y="792" width="44" height="62" fill="#6CB840" opacity="0.35"/><rect x="1774" y="800" width="1" height="130" fill="#E0E430" opacity="0.6"/><rect x="1788" y="800" width="1" height="130" fill="#E0E430" opacity="0.6"/><rect x="1800" y="800" width="1" height="130" fill="#E0E430" opacity="0.6"/><rect x="1760" y="859.3" width="19" height="3.2" rx="1" fill="#E63420" shape-rendering="auto"/><rect x="1797" y="859.0" width="7" height="3.2" rx="1" fill="#F06020" shape-rendering="auto"/><rect x="1766" y="891" width="3" height="4" rx="1.2" fill="#F08020" opacity="0.65" shape-rendering="auto"/><rect x="1775" y="891" width="3" height="4" rx="1.2" fill="#F08020" opacity="0.65" shape-rendering="auto"/><rect x="1786" y="890" width="3" height="4" rx="1.2" fill="#F08020" opacity="0.65" shape-rendering="auto"/><rect x="1790" y="892" width="3" height="4" rx="1.2" fill="#F08020" opacity="0.65" shape-rendering="auto"/>
<rect x="278" y="70" width="19" height="861" fill="#fff"/>
<rect x="643" y="70" width="17" height="861" fill="#fff"/>
<rect x="1324" y="70" width="14" height="861" fill="#fff"/>
<rect x="1498" y="70" width="134" height="861" fill="#fff"/>
<rect x="1741" y="70" width="19" height="861" fill="#fff"/>
<rect x="0" y="0" width="1834" height="1" fill="#929292"/><rect x="0" y="0" width="1" height="979" fill="#929292"/>
<path d="M52 63V68M1803 63V68M55 65V68M66 65V68M76 63V68M86 65V68M97 65V68M107 65V68M118 65V68M128 63V68M139 65V68M149 65V68M159 65V68M170 65V68M180 63V68M191 65V68M201 65V68M211 65V68M222 65V68M232 63V68M243 65V68M253 65V68M264 65V68M274 65V68M284 63V68M295 65V68M305 65V68M316 65V68M326 65V68M337 63V68M347 65V68M357 65V68M368 65V68M378 65V68M389 63V68M399 65V68M409 65V68M420 65V68M430 65V68M441 63V68M451 65V68M462 65V68M472 65V68M482 65V68M493 63V68M503 65V68M514 65V68M524 65V68M535 65V68M545 63V68M555 65V68M566 65V68M576 65V68M587 65V68M597 63V68M608 65V68M618 65V68M628 65V68M639 65V68M649 63V68M660 65V68M670 65V68M680 65V68M691 65V68M701 63V68M712 65V68M722 65V68M733 65V68M743 65V68M753 63V68M764 65V68M774 65V68M785 65V68M795 65V68M806 63V68M816 65V68M826 65V68M837 65V68M847 65V68M858 63V68M868 65V68M879 65V68M889 65V68M899 65V68M910 63V68M920 65V68M931 65V68M941 65V68M951 65V68M962 63V68M972 65V68M983 65V68M993 65V68M1004 65V68M1014 63V68M1024 65V68M1035 65V68M1045 65V68M1056 65V68M1066 63V68M1077 65V68M1087 65V68M1097 65V68M1108 65V68M1118 63V68M1129 65V68M1139 65V68M1150 65V68M1160 65V68M1170 63V68M1181 65V68M1191 65V68M1202 65V68M1212 65V68M1222 63V68M1233 65V68M1243 65V68M1254 65V68M1264 65V68M1275 63V68M1285 65V68M1295 65V68M1306 65V68M1316 65V68M1327 63V68M1337 65V68M1348 65V68M1358 65V68M1368 65V68M1379 63V68M1389 65V68M1400 65V68M1410 65V68M1420 65V68M1431 63V68M1441 65V68M1452 65V68M1462 65V68M1473 65V68M1483 63V68M1493 65V68M1504 65V68M1514 65V68M1525 65V68M1535 63V68M1546 65V68M1556 65V68M1566 65V68M1577 65V68M1587 63V68M1598 65V68M1608 65V68M1619 65V68M1629 65V68M1639 63V68M1650 65V68M1660 65V68M1671 65V68M1681 65V68M1691 63V68M1702 65V68M1712 65V68M1723 65V68M1733 65V68M1744 63V68M1754 65V68M1764 65V68M1775 65V68M1785 65V68M1796 63V68M52 933V938M1803 933V938M54 933V936M60 933V936M67 933V936M73 933V936M79 933V936M86 933V936M92 933V936M98 933V936M105 933V936M111 933V936M117 933V938M124 933V936M130 933V936M137 933V936M143 933V936M149 933V936M156 933V936M162 933V936M168 933V936M175 933V936M181 933V936M187 933V936M194 933V938M200 933V936M207 933V936M213 933V936M219 933V936M226 933V936M232 933V936M238 933V936M245 933V936M251 933V936M257 933V936M264 933V936M270 933V938M277 933V936M283 933V936M289 933V936M296 933V936M302 933V936M308 933V936M315 933V936M321 933V936M327 933V936M334 933V936M340 933V936M346 933V938M353 933V936M359 933V936M366 933V936M372 933V936M378 933V936M385 933V936M391 933V936M397 933V936M404 933V936M410 933V936M416 933V936M423 933V938M429 933V936M436 933V936M442 933V936M448 933V936M455 933V936M461 933V936M467 933V936M474 933V936M480 933V936M486 933V936M493 933V936M499 933V938M506 933V936M512 933V936M518 933V936M525 933V936M531 933V936M537 933V936M544 933V936M550 933V936M556 933V936M563 933V936M569 933V936M576 933V938M582 933V936M588 933V936M595 933V936M601 933V936M607 933V936M614 933V936M620 933V936M626 933V936M633 933V936M639 933V936M645 933V936M652 933V938M658 933V936M665 933V936M671 933V936M677 933V936M684 933V936M690 933V936M696 933V936M703 933V936M709 933V936M715 933V936M722 933V936M728 933V938M735 933V936M741 933V936M747 933V936M754 933V936M760 933V936M766 933V936M773 933V936M779 933V936M785 933V936M792 933V936M798 933V936M805 933V938M811 933V936M817 933V936M824 933V936M830 933V936M836 933V936M843 933V936M849 933V936M855 933V936M862 933V936M868 933V936M875 933V936M881 933V938M887 933V936M894 933V936M900 933V936M906 933V936M913 933V936M919 933V936M925 933V936M932 933V936M938 933V936M944 933V936M951 933V936M957 933V938M964 933V936M970 933V936M976 933V936M983 933V936M989 933V936M995 933V936M1002 933V936M1008 933V936M1014 933V936M1021 933V936M1027 933V936M1034 933V938M1040 933V936M1046 933V936M1053 933V936M1059 933V936M1065 933V936M1072 933V936M1078 933V936M1084 933V936M1091 933V936M1097 933V936M1104 933V936M1110 933V938M1116 933V936M1123 933V936M1129 933V936M1135 933V936M1142 933V936M1148 933V936M1154 933V936M1161 933V936M1167 933V936M1173 933V936M1180 933V936M1186 933V938M1193 933V936M1199 933V936M1205 933V936M1212 933V936M1218 933V936M1224 933V936M1231 933V936M1237 933V936M1243 933V936M1250 933V936M1256 933V936M1263 933V938M1269 933V936M1275 933V936M1282 933V936M1288 933V936M1294 933V936M1301 933V936M1307 933V936M1313 933V936M1320 933V936M1326 933V936M1333 933V936M1339 933V938M1345 933V936M1352 933V936M1358 933V936M1364 933V936M1371 933V936M1377 933V936M1383 933V936M1390 933V936M1396 933V936M1403 933V936M1409 933V936M1415 933V938M1422 933V936M1428 933V936M1434 933V936M1441 933V936M1447 933V936M1453 933V936M1460 933V936M1466 933V936M1472 933V936M1479 933V936M1485 933V936M1492 933V938M1498 933V936M1504 933V936M1511 933V936M1517 933V936M1523 933V936M1530 933V936M1536 933V936M1542 933V936M1549 933V936M1555 933V936M1562 933V936M1568 933V938M1574 933V936M1581 933V936M1587 933V936M1593 933V936M1600 933V936M1606 933V936M1612 933V936M1619 933V936M1625 933V936M1632 933V936M1638 933V936M1644 933V938M1651 933V936M1657 933V936M1663 933V936M1670 933V936M1676 933V936M1682 933V936M1689 933V936M1695 933V936M1701 933V936M1708 933V936M1714 933V936M1721 933V938M1727 933V936M1733 933V936M1740 933V936M1746 933V936M1752 933V936M1759 933V936M1765 933V936M1771 933V936M1778 933V936M1784 933V936M1791 933V936M1797 933V938" stroke="#fff" stroke-width="1" fill="none" transform="translate(0.5,0)"/>
<path d="M45 930H50M1806 930H1811M47 919H50M1806 919H1809M45 908H50M1806 908H1811M47 898H50M1806 898H1809M45 887H50M1806 887H1811M47 876H50M1806 876H1809M45 865H50M1806 865H1811M47 855H50M1806 855H1809M45 844H50M1806 844H1811M47 833H50M1806 833H1809M45 822H50M1806 822H1811M47 812H50M1806 812H1809M45 801H50M1806 801H1811M47 790H50M1806 790H1809M45 779H50M1806 779H1811M47 769H50M1806 769H1809M45 758H50M1806 758H1811M47 747H50M1806 747H1809M45 736H50M1806 736H1811M47 726H50M1806 726H1809M45 715H50M1806 715H1811M47 704H50M1806 704H1809M45 693H50M1806 693H1811M47 683H50M1806 683H1809M45 672H50M1806 672H1811M47 661H50M1806 661H1809M45 650H50M1806 650H1811M47 640H50M1806 640H1809M45 629H50M1806 629H1811M47 618H50M1806 618H1809M45 607H50M1806 607H1811M47 597H50M1806 597H1809M45 586H50M1806 586H1811M47 575H50M1806 575H1809M45 564H50M1806 564H1811M47 554H50M1806 554H1809M45 543H50M1806 543H1811M47 532H50M1806 532H1809M45 521H50M1806 521H1811M47 511H50M1806 511H1809M45 500H50M1806 500H1811M47 489H50M1806 489H1809M45 478H50M1806 478H1811M47 468H50M1806 468H1809M45 457H50M1806 457H1811M47 446H50M1806 446H1809M45 435H50M1806 435H1811M47 425H50M1806 425H1809M45 414H50M1806 414H1811M47 403H50M1806 403H1809M45 392H50M1806 392H1811M47 382H50M1806 382H1809M45 371H50M1806 371H1811M47 360H50M1806 360H1809M45 349H50M1806 349H1811M47 339H50M1806 339H1809M45 328H50M1806 328H1811M47 317H50M1806 317H1809M45 306H50M1806 306H1811M47 296H50M1806 296H1809M45 285H50M1806 285H1811M47 274H50M1806 274H1809M45 263H50M1806 263H1811M47 253H50M1806 253H1809M45 242H50M1806 242H1811M47 231H50M1806 231H1809M45 220H50M1806 220H1811M47 210H50M1806 210H1809M45 199H50M1806 199H1811M47 188H50M1806 188H1809M45 177H50M1806 177H1811M47 167H50M1806 167H1809M45 156H50M1806 156H1811M47 145H50M1806 145H1809M45 134H50M1806 134H1811M47 124H50M1806 124H1809M45 113H50M1806 113H1811M47 102H50M1806 102H1809M45 91H50M1806 91H1811M47 81H50M1806 81H1809M45 70H50M1806 70H1811" stroke="#fff" stroke-width="1" fill="none" transform="translate(0,0.5)"/>
<rect x="1841" y="74" width="18" height="3" fill="#E0508A"/>
<rect x="1841" y="78" width="18" height="858" fill="url(#cbg)"/>
<rect x="1841" y="936" width="18" height="4" fill="#fff"/>
</svg>
<div id="txt" style="position:absolute;left:0;top:0;width:1920px;height:980px;will-change:transform;">
<div class="t b" style="left:807.5px;top:5.5px;font-size:10.67px;">AOS</div>
<div class="t b" style="left:836.7px;top:5.5px;font-size:10.67px;">Thu 26 Mar 2026 18:30:09</div>
<div class="t b" style="left:971.7px;top:5.5px;font-size:10.67px;">AOS</div>
<div class="t b" style="left:717.2px;top:17.5px;font-size:10.67px;">CoordSystem:121f05</div>
<div class="t b" style="left:831.3px;top:17.5px;font-size:10.67px;">SensorID:121f05</div>
<div class="t b" style="left:925.7px;top:17.5px;font-size:10.67px;">Axis:sum</div>
<div class="t b" style="left:986.0px;top:17.5px;font-size:10.67px;letter-spacing:-0.22px;">Windowing:Hanning</div>
<div class="t b" style="left:618.5px;top:29.5px;font-size:10.67px;">Cuttoff(Hz):200</div>
<div class="t b" style="left:714.4px;top:29.5px;font-size:10.67px;">df(Hz):0.2441</div>
<div class="t b" style="left:799.2px;top:29.5px;font-size:10.67px;">Sample/Sec:500</div>
<div class="t b" style="left:900.3px;top:29.5px;font-size:10.67px;">PSD size:2048</div>
<div class="t b" style="left:993.3px;top:29.5px;font-size:10.67px;">Overlap(%):0</div>
<div class="t b" style="left:1081.9px;top:29.5px;font-size:10.67px;">TimeRes.(sec):4.096</div>
<div class="t c" style="left:52.5px;top:50.5px;">4977</div>
<div class="t c" style="left:128.6px;top:50.5px;">5050</div>
<div class="t c" style="left:180.7px;top:50.5px;">5100</div>
<div class="t c" style="left:232.8px;top:50.5px;">5150</div>
<div class="t c" style="left:284.9px;top:50.5px;">5200</div>
<div class="t c" style="left:337.0px;top:50.5px;">5250</div>
<div class="t c" style="left:389.2px;top:50.5px;">5300</div>
<div class="t c" style="left:441.3px;top:50.5px;">5350</div>
<div class="t c" style="left:493.4px;top:50.5px;">5400</div>
<div class="t c" style="left:545.5px;top:50.5px;">5450</div>
<div class="t c" style="left:597.6px;top:50.5px;">5500</div>
<div class="t c" style="left:649.7px;top:50.5px;">5550</div>
<div class="t c" style="left:701.8px;top:50.5px;">5600</div>
<div class="t c" style="left:753.9px;top:50.5px;">5650</div>
<div class="t c" style="left:806.1px;top:50.5px;">5700</div>
<div class="t c" style="left:858.2px;top:50.5px;">5750</div>
<div class="t c" style="left:910.3px;top:50.5px;">5800</div>
<div class="t c" style="left:962.4px;top:50.5px;">5850</div>
<div class="t c" style="left:1014.5px;top:50.5px;">5900</div>
<div class="t c" style="left:1066.6px;top:50.5px;">5950</div>
<div class="t c" style="left:1118.7px;top:50.5px;">6000</div>
<div class="t c" style="left:1170.8px;top:50.5px;">6050</div>
<div class="t c" style="left:1223.0px;top:50.5px;">6100</div>
<div class="t c" style="left:1275.1px;top:50.5px;">6150</div>
<div class="t c" style="left:1327.2px;top:50.5px;">6200</div>
<div class="t c" style="left:1379.3px;top:50.5px;">6250</div>
<div class="t c" style="left:1431.4px;top:50.5px;">6300</div>
<div class="t c" style="left:1483.5px;top:50.5px;">6350</div>
<div class="t c" style="left:1535.6px;top:50.5px;">6400</div>
<div class="t c" style="left:1587.8px;top:50.5px;">6450</div>
<div class="t c" style="left:1639.9px;top:50.5px;">6500</div>
<div class="t c" style="left:1692.0px;top:50.5px;">6550</div>
<div class="t c" style="left:1744.1px;top:50.5px;">6600</div>
<div class="t c" style="left:1803.5px;top:50.5px;">6657</div>
<div class="t r" style="left:0;width:43.5px;top:923.5px;">0</div>
<div class="t r" style="left:0;width:43.5px;top:901.5px;">5</div>
<div class="t r" style="left:0;width:43.5px;top:880.5px;">10</div>
<div class="t r" style="left:0;width:43.5px;top:858.5px;">15</div>
<div class="t r" style="left:0;width:43.5px;top:837.5px;">20</div>
<div class="t r" style="left:0;width:43.5px;top:815.5px;">25</div>
<div class="t r" style="left:0;width:43.5px;top:794.5px;">30</div>
<div class="t r" style="left:0;width:43.5px;top:772.5px;">35</div>
<div class="t r" style="left:0;width:43.5px;top:751.5px;">40</div>
<div class="t r" style="left:0;width:43.5px;top:729.5px;">45</div>
<div class="t r" style="left:0;width:43.5px;top:708.5px;">50</div>
<div class="t r" style="left:0;width:43.5px;top:686.5px;">55</div>
<div class="t r" style="left:0;width:43.5px;top:665.5px;">60</div>
<div class="t r" style="left:0;width:43.5px;top:643.5px;">65</div>
<div class="t r" style="left:0;width:43.5px;top:622.5px;">70</div>
<div class="t r" style="left:0;width:43.5px;top:600.5px;">75</div>
<div class="t r" style="left:0;width:43.5px;top:579.5px;">80</div>
<div class="t r" style="left:0;width:43.5px;top:557.5px;">85</div>
<div class="t r" style="left:0;width:43.5px;top:536.5px;">90</div>
<div class="t r" style="left:0;width:43.5px;top:514.5px;">95</div>
<div class="t r" style="left:0;width:43.5px;top:493.5px;">100</div>
<div class="t r" style="left:0;width:43.5px;top:471.5px;">105</div>
<div class="t r" style="left:0;width:43.5px;top:450.5px;">110</div>
<div class="t r" style="left:0;width:43.5px;top:428.5px;">115</div>
<div class="t r" style="left:0;width:43.5px;top:407.5px;">120</div>
<div class="t r" style="left:0;width:43.5px;top:385.5px;">125</div>
<div class="t r" style="left:0;width:43.5px;top:364.5px;">130</div>
<div class="t r" style="left:0;width:43.5px;top:342.5px;">135</div>
<div class="t r" style="left:0;width:43.5px;top:321.5px;">140</div>
<div class="t r" style="left:0;width:43.5px;top:299.5px;">145</div>
<div class="t r" style="left:0;width:43.5px;top:278.5px;">150</div>
<div class="t r" style="left:0;width:43.5px;top:256.5px;">155</div>
<div class="t r" style="left:0;width:43.5px;top:235.5px;">160</div>
<div class="t r" style="left:0;width:43.5px;top:213.5px;">165</div>
<div class="t r" style="left:0;width:43.5px;top:192.5px;">170</div>
<div class="t r" style="left:0;width:43.5px;top:170.5px;">175</div>
<div class="t r" style="left:0;width:43.5px;top:149.5px;">180</div>
<div class="t r" style="left:0;width:43.5px;top:127.5px;">185</div>
<div class="t r" style="left:0;width:43.5px;top:106.5px;">190</div>
<div class="t r" style="left:0;width:43.5px;top:84.5px;">195</div>
<div class="t r" style="left:0;width:43.5px;top:63.5px;">200</div>
<div class="t c n" style="left:52.5px;top:937.5px;">16:35:42.643</div>
<div class="t c n" style="left:51.5px;top:949.5px;">03/26/2026</div>
<div class="t c n" style="left:118.0px;top:937.5px;">16:40:00.000</div>
<div class="t c n" style="left:117.0px;top:949.5px;">03/26/2026</div>
<div class="t c n" style="left:194.3px;top:937.5px;">16:45:00.000</div>
<div class="t c n" style="left:193.3px;top:949.5px;">03/26/2026</div>
<div class="t c n" style="left:270.7px;top:937.5px;">16:50:00.000</div>
<div class="t c n" style="left:269.7px;top:949.5px;">03/26/2026</div>
<div class="t c n" style="left:347.0px;top:937.5px;">16:55:00.000</div>
<div class="t c n" style="left:346.0px;top:949.5px;">03/26/2026</div>
<div class="t c n" style="left:423.3px;top:937.5px;">17:00:00.000</div>
<div class="t c n" style="left:422.3px;top:949.5px;">03/26/2026</div>
<div class="t c n" style="left:499.7px;top:937.5px;">17:05:00.000</div>
<div class="t c n" style="left:498.7px;top:949.5px;">03/26/2026</div>
<div class="t c n" style="left:576.0px;top:937.5px;">17:10:00.000</div>
<div class="t c n" style="left:575.0px;top:949.5px;">03/26/2026</div>
<div class="t c n" style="left:652.3px;top:937.5px;">17:15:00.000</div>
<div class="t c n" style="left:651.3px;top:949.5px;">03/26/2026</div>
<div class="t c n" style="left:728.7px;top:937.5px;">17:20:00.000</div>
<div class="t c n" style="left:727.7px;top:949.5px;">03/26/2026</div>
<div class="t c n" style="left:805.0px;top:937.5px;">17:25:00.000</div>
<div class="t c n" style="left:804.0px;top:949.5px;">03/26/2026</div>
<div class="t c n" style="left:881.4px;top:937.5px;">17:30:00.000</div>
<div class="t c n" style="left:880.4px;top:949.5px;">03/26/2026</div>
<div class="t c n" style="left:957.7px;top:937.5px;">17:35:00.000</div>
<div class="t c n" style="left:956.7px;top:949.5px;">03/26/2026</div>
<div class="t c n" style="left:1034.0px;top:937.5px;">17:40:00.000</div>
<div class="t c n" style="left:1033.0px;top:949.5px;">03/26/2026</div>
<div class="t c n" style="left:1110.4px;top:937.5px;">17:45:00.000</div>
<div class="t c n" style="left:1109.4px;top:949.5px;">03/26/2026</div>
<div class="t c n" style="left:1186.7px;top:937.5px;">17:50:00.000</div>
<div class="t c n" style="left:1185.7px;top:949.5px;">03/26/2026</div>
<div class="t c n" style="left:1263.0px;top:937.5px;">17:55:00.000</div>
<div class="t c n" style="left:1262.0px;top:949.5px;">03/26/2026</div>
<div class="t c n" style="left:1339.4px;top:937.5px;">18:00:00.000</div>
<div class="t c n" style="left:1338.4px;top:949.5px;">03/26/2026</div>
<div class="t c n" style="left:1415.7px;top:937.5px;">18:05:00.000</div>
<div class="t c n" style="left:1414.7px;top:949.5px;">03/26/2026</div>
<div class="t c n" style="left:1492.1px;top:937.5px;">18:10:00.000</div>
<div class="t c n" style="left:1491.1px;top:949.5px;">03/26/2026</div>
<div class="t c n" style="left:1568.4px;top:937.5px;">18:15:00.000</div>
<div class="t c n" style="left:1567.4px;top:949.5px;">03/26/2026</div>
<div class="t c n" style="left:1644.7px;top:937.5px;">18:20:00.000</div>
<div class="t c n" style="left:1643.7px;top:949.5px;">03/26/2026</div>
<div class="t c n" style="left:1721.1px;top:937.5px;">18:25:00.000</div>
<div class="t c n" style="left:1720.1px;top:949.5px;">03/26/2026</div>
<div class="t c n" style="left:1803.5px;top:937.5px;">18:30:23.924</div>
<div class="t c n" style="left:1802.5px;top:949.5px;">03/26/2026</div>
<div class="t c" style="left:925.5px;top:963.5px;">Time</div>
<div class="t " style="left:1869.0px;top:72.5px;">-5.00</div>
<div class="t " style="left:1869.0px;top:500.5px;">-9.00</div>
<div class="t " style="left:1869.0px;top:928.5px;">-13.00</div>
<div class="t" style="left:1913px;top:508px;transform:translate(-50%,-50%) rotate(90deg);">Amplitude(Log10(g^2/Hz))</div>
</div>
</body></html>
